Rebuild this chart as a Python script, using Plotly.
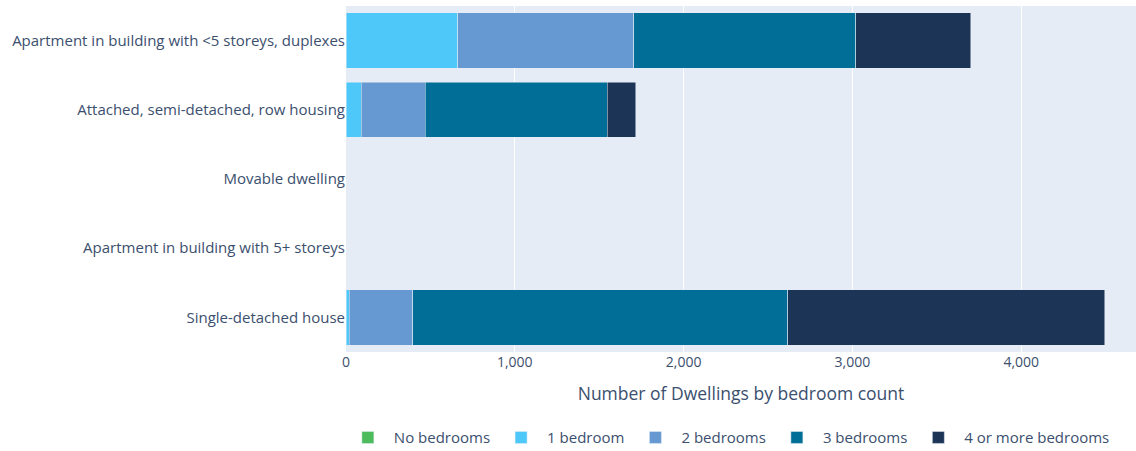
import plotly.graph_objects as go

categories = [
    "Single-detached house",
    "Apartment in building with 5+ storeys",
    "Movable dwelling",
    "Attached, semi-detached, row housing",
    "Apartment in building with <5 storeys, duplexes",
]
series_names = ["No bedrooms", "1 bedroom", "2 bedrooms", "3 bedrooms", "4 or more bedrooms"]
no_bedrooms = [0, 0, 0, 0, 0]
one_bedroom = [18, 0, 0, 89, 661]
two_bedrooms = [376, 0, 0, 379, 1043]
three_bedrooms = [2223, 0, 0, 1079, 1316]
four_plus = [1879, 0, 0, 169, 682]
colors = ["#4cbb5c", "#4dc8f8", "#6699d1", "#006e96", "#1c3557"]
x_ticks = [0, 1000, 2000, 3000, 4000]
x_tick_labels = ["0", "1,000", "2,000", "3,000", "4,000"]

fig = go.Figure()
for name, vals, col in zip(series_names,
                           [no_bedrooms, one_bedroom, two_bedrooms, three_bedrooms, four_plus],
                           colors):
    fig.add_trace(go.Bar(y=categories, x=vals, name=name, orientation="h",
                         marker=dict(color=col, line=dict(color="#E5ECF6", width=0.5))))

fig.update_layout(
    barmode="stack",
    width=1136, height=451,
    margin=dict(l=346, r=0, t=6, b=99, autoexpand=False),
    font=dict(family="Open Sans", size=15, color="#3b4f6e"),
    plot_bgcolor="#E5ECF6",
    paper_bgcolor="white",
    legend=dict(orientation="h", x=0.484, xanchor="center", y=-0.2, yanchor="top",
                font=dict(size=15), traceorder="normal", itemwidth=42),
    xaxis=dict(title=dict(text="Number of Dwellings by bedroom count", font=dict(size=17.5),
                          standoff=17),
               range=[0, 4680], tickvals=x_ticks, ticktext=x_tick_labels,
               tickfont=dict(size=14), automargin=False,
               gridcolor="white", zeroline=False),
    yaxis=dict(categoryorder="array", categoryarray=categories, tickfont=dict(size=15),
               automargin=False),
)
fig.write_html("out.html")
